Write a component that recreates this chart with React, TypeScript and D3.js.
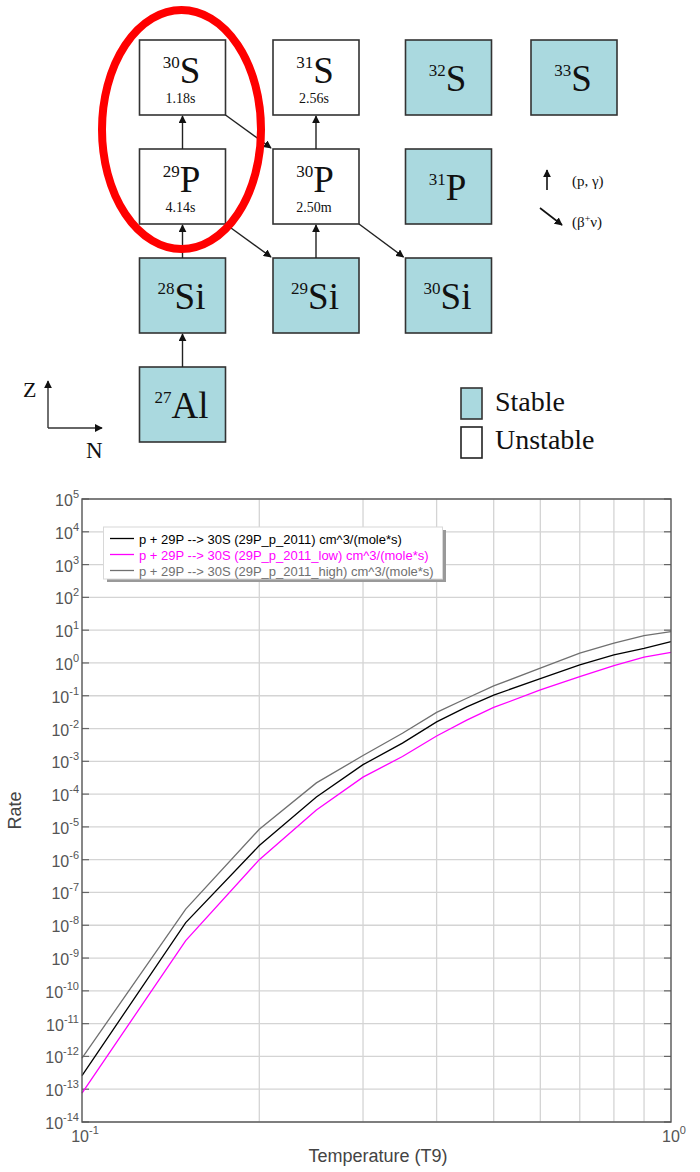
import React from "react";
import * as d3 from "d3";

const width = 700;
const height = 1172;
const margin = { top: 499, right: 29, bottom: 50, left: 82 };

const serif = "'Liberation Serif', 'Times New Roman', serif";
const sans = "'Liberation Sans', Arial, sans-serif";

// nuclide chart part
const nuclides = [
  { el: "S", A: 30, Z: 16, N: 14, half: "1.18s" },
  { el: "S", A: 31, Z: 16, N: 15, half: "2.56s" },
  { el: "S", A: 32, Z: 16, N: 16, half: null },
  { el: "S", A: 33, Z: 16, N: 17, half: null },
  { el: "P", A: 29, Z: 15, N: 14, half: "4.14s" },
  { el: "P", A: 30, Z: 15, N: 15, half: "2.50m" },
  { el: "P", A: 31, Z: 15, N: 16, half: null },
  { el: "Si", A: 28, Z: 14, N: 14, half: null },
  { el: "Si", A: 29, Z: 14, N: 15, half: null },
  { el: "Si", A: 30, Z: 14, N: 16, half: null },
  { el: "Al", A: 27, Z: 13, N: 14, half: null },
];

// [fromZ, fromN, type]
const reactions = [
  [13, 14, "pg"],
  [14, 14, "pg"],
  [15, 14, "pg"],
  [16, 14, "beta"],
  [15, 14, "beta"],
  [14, 15, "pg"],
  [15, 15, "pg"],
  [15, 15, "beta"],
];

// rate curves
const t9 = [0.1, 0.15, 0.2, 0.25, 0.3, 0.35, 0.4, 0.45, 0.5, 0.6, 0.7, 0.8, 0.9, 1.0];
const rateMid = [2.6e-13, 1.2e-8, 2.7e-6, 8.2e-5, 7.9e-4, 3.6e-3, 1.6e-2, 4.6e-2, 0.105, 0.33, 0.87, 1.75, 2.8, 4.5];
const rateLow = [7.6e-14, 3.4e-9, 1.0e-6, 3.3e-5, 3.3e-4, 1.4e-3, 5.9e-3, 1.8e-2, 4.4e-2, 0.15, 0.38, 0.83, 1.5, 2.1];
const rateHigh = [8.9e-13, 3.1e-8, 8.5e-6, 2.2e-4, 1.5e-3, 7.2e-3, 3.1e-2, 8.4e-2, 0.2, 0.69, 2.0, 4.0, 6.8, 9.0];

const seriesNames = [
  "p + 29P --> 30S (29P_p_2011) cm^3/(mole*s)",
  "p + 29P --> 30S (29P_p_2011_low) cm^3/(mole*s)",
  "p + 29P --> 30S (29P_p_2011_high) cm^3/(mole*s)",
];
const seriesColors = ["#000000", "#ff00ff", "#707070"];
const yExponents = d3.range(-14, 6);
const xTicksMajor = [0.1, 1];
const xGrid = [0.2, 0.3, 0.4, 0.5, 0.6, 0.7, 0.8, 0.9];

const boxW = 86;
const boxH = 75;
const stableFill = "#aad9df";

const App = () => {
  // chart-of-nuclides layout
  const nx = d3.scaleLinear().domain([14, 15, 16, 17]).range([182.5, 316, 448.5, 574]);
  const zy = d3.scaleLinear().domain([16, 13]).range([40, 367]);

  const x = d3.scaleLog().domain([0.1, 1]).range([margin.left, width - margin.right]);
  const y = d3.scaleLog().domain([1e-14, 1e5]).range([height - margin.bottom, margin.top]);

  const line = d3
    .line<[number, number]>()
    .x((d) => x(d[0]))
    .y((d) => y(d[1]));

  const series = [rateMid, rateLow, rateHigh];

  const arrows = reactions.map(([z, n, type]) => {
    const cx = nx(n as number);
    const top = zy(z as number);
    if (type === "pg") {
      return { x1: cx, y1: top, x2: cx, y2: zy((z as number) + 1) + boxH + 1 };
    }
    return {
      x1: cx + boxW / 2,
      y1: top + boxH,
      x2: nx((n as number) + 1) - boxW / 2 - 2,
      y2: zy((z as number) - 1) - 1,
    };
  });

  const x0 = margin.left;
  const x1 = width - margin.right;
  const y0 = height - margin.bottom;
  const y1 = margin.top;

  return (
    <svg width={width} height={height} style={{ position: "absolute", left: 0, top: 0 }}>
      <defs>
        <marker id="ah" viewBox="0 0 10 10" refX="9" refY="5" markerWidth="8" markerHeight="8" markerUnits="userSpaceOnUse" orient="auto">
          <path d="M0,0 L10,5 L0,10 z" fill="#111" />
        </marker>
      </defs>
      <rect width={width} height={height} fill="#fff" />

      {/* nuclide boxes */}
      {nuclides.map((d) => {
        const cx = nx(d.N);
        const top = zy(d.Z);
        const base = d.half ? top + 43 : top + 51;
        return (
          <g key={d.A + d.el}>
            <rect x={cx - boxW / 2} y={top} width={boxW} height={boxH} fill={d.half ? "#fff" : stableFill} stroke="#333" strokeWidth={1.6} />
            <text x={cx - 1} y={base} textAnchor="middle" fontFamily={serif} fill="#111">
              <tspan fontSize={17} dy={-15}>{d.A}</tspan>
              <tspan fontSize={37} dy={15}>{d.el}</tspan>
            </text>
            {d.half && (
              <text x={cx - 2} y={top + 63} textAnchor="middle" fontFamily={serif} fontSize={14} fill="#111">
                {d.half}
              </text>
            )}
          </g>
        );
      })}

      {arrows.map((a, i) => (
        <line key={i} x1={a.x1} y1={a.y1} x2={a.x2} y2={a.y2} stroke="#222" strokeWidth={1.4} markerEnd="url(#ah)" />
      ))}

      {/* reaction legend */}
      <line x1={547} y1={190} x2={547} y2={170} stroke="#111" strokeWidth={1.6} markerEnd="url(#ah)" />
      <text x={572} y={186} fontFamily={serif} fontSize={15} fill="#111">(p, γ)</text>
      <line x1={540} y1={208} x2={562} y2={225} stroke="#111" strokeWidth={1.6} markerEnd="url(#ah)" />
      <text x={572} y={227} fontFamily={serif} fontSize={15} fill="#111">
        (β<tspan fontSize={10} dy={-5}>+</tspan>
        <tspan dy={5}>ν)</tspan>
      </text>

      {/* Z / N axes */}
      <line x1={48} y1={428} x2={48} y2={381} stroke="#333" strokeWidth={1.4} markerEnd="url(#ah)" />
      <line x1={48} y1={428} x2={102} y2={428} stroke="#333" strokeWidth={1.4} markerEnd="url(#ah)" />
      <text x={23} y={397} fontFamily={serif} fontSize={22} fill="#111">Z</text>
      <text x={86} y={458} fontFamily={serif} fontSize={23} fill="#111">N</text>

      {/* stable legend */}
      <rect x={461} y={388} width={21} height={31} fill={stableFill} stroke="#333" strokeWidth={1.6} />
      <text x={495} y={411} fontFamily={serif} fontSize={28} fill="#111">Stable</text>
      <rect x={461} y={427} width={21} height={31} fill="#fff" stroke="#222" strokeWidth={1.6} />
      <text x={495} y={449} fontFamily={serif} fontSize={28} fill="#111">Unstable</text>

      <ellipse cx={181.5} cy={129.5} rx={79.5} ry={119.5} fill="none" stroke="#ff0000" strokeWidth={8} />

      {/* rate chart */}
      <g>
        {yExponents.map((e) => (
          <line key={"gy" + e} x1={x0} x2={x1} y1={y(Math.pow(10, e))} y2={y(Math.pow(10, e))} stroke="#d4d4d4" strokeWidth={1.3} />
        ))}
        {xGrid.map((t) => (
          <line key={"gx" + t} x1={x(t)} x2={x(t)} y1={y0} y2={y1} stroke="#d4d4d4" strokeWidth={1.3} />
        ))}
        {yExponents.map((e) => (
          <g key={"tk" + e}>
            <line x1={x0} x2={x0 + 7} y1={y(Math.pow(10, e))} y2={y(Math.pow(10, e))} stroke="#666" strokeWidth={1.2} />
            <line x1={x1 - 7} x2={x1} y1={y(Math.pow(10, e))} y2={y(Math.pow(10, e))} stroke="#666" strokeWidth={1.2} />
            <text x={79} y={y(Math.pow(10, e)) + 7} textAnchor="end" fontFamily={sans} fill="#555">
              <tspan fontSize={16}>10</tspan>
              <tspan fontSize={11} dy={-8}>{e < 0 ? "-" + -e : e}</tspan>
            </text>
          </g>
        ))}
        {xTicksMajor.map((t) => (
          <text key={"xt" + t} x={x(t) + 3} y={1142} textAnchor="middle" fontFamily={sans} fill="#555">
            <tspan fontSize={16}>10</tspan>
            <tspan fontSize={11} dy={-8}>{t === 1 ? "0" : "-1"}</tspan>
          </text>
        ))}

        {series.map((s, i) => (
          <path
            key={"s" + i}
            d={line(t9.map((t, j) => [t, s[j]] as [number, number])) || ""}
            fill="none"
            stroke={seriesColors[i]}
            strokeWidth={1.3}
          />
        ))}

        <rect x={x0} y={y1} width={x1 - x0} height={y0 - y1} fill="none" stroke="#555" strokeWidth={1.4} />

        {/* legend */}
        <rect x={107} y={530} width={339} height={52} fill="#999" />
        <rect x={103.5} y={527} width={339} height={52} fill="#fff" stroke="#d8d8d8" strokeWidth={1} />
        {seriesNames.map((n, i) => (
          <g key={"lg" + i}>
            <line x1={110} x2={134} y1={538.5 + i * 16} y2={538.5 + i * 16} stroke={seriesColors[i]} strokeWidth={1.3} />
            <text x={139} y={543.5 + i * 16} fontFamily={sans} fontSize={13} fill={seriesColors[i]}>
              {n}
            </text>
          </g>
        ))}

        <text x={378} y={1162} textAnchor="middle" fontFamily={sans} fontSize={18} fill="#444">
          Temperature (T9)
        </text>
        <text transform={`translate(21, ${(y0 + y1) / 2}) rotate(-90)`} textAnchor="middle" fontFamily={sans} fontSize={18} fill="#444">
          Rate
        </text>
      </g>
    </svg>
  );
};

export default App;
